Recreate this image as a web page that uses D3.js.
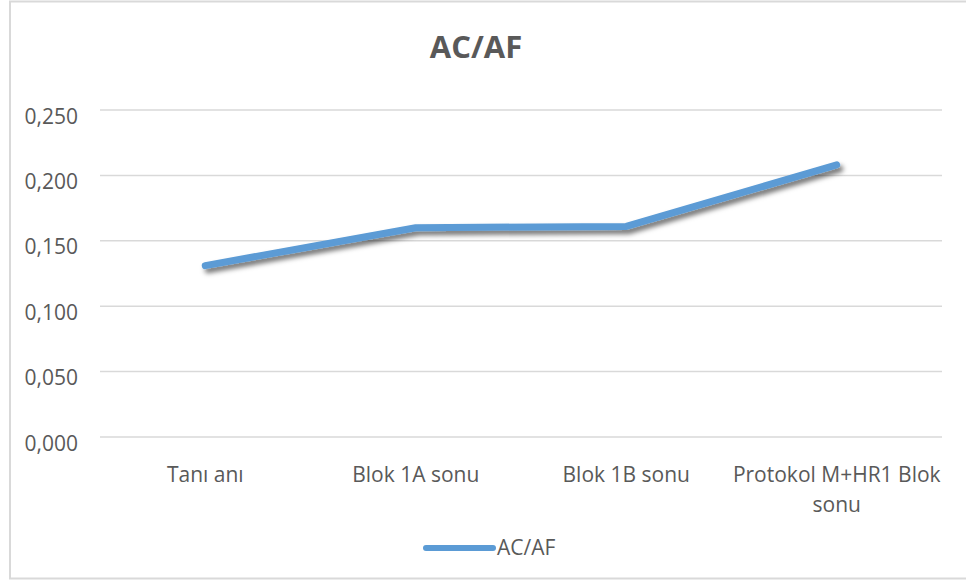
<!DOCTYPE html>
<html>
<head>
<meta charset="utf-8">
<script src="https://cdn.jsdelivr.net/npm/d3@7"></script>
<style>
  html, body { margin: 0; padding: 0; background: #fff; }
  svg { display: block; font-family: "Open Sans", "Noto Sans", sans-serif; }
</style>
</head>
<body>
<svg id="chart" width="966" height="580"></svg>
<script>
// Data
const categories = ["Tanı anı", "Blok 1A sonu", "Blok 1B sonu", "Protokol M+HR1 Blok sonu"];
const seriesName = "AC/AF";
const values = [0.131, 0.160, 0.161, 0.208];
const yTicks = [0, 0.05, 0.10, 0.15, 0.20, 0.25];

const svg = d3.select("#chart");
const plot = { left: 100, right: 942, top: 110, bottom: 437 };
const lineColor = "#5b9bd5";
const textColor = "#595959";
const gridColor = "#d9d9d9";
const labelSize = 21;

// Drop shadow for the series line
const defs = svg.append("defs");
const f = defs.append("filter").attr("id", "shadow")
  .attr("x", "-10%").attr("y", "-50%").attr("width", "120%").attr("height", "200%");
f.append("feDropShadow").attr("dx", 3).attr("dy", 4).attr("stdDeviation", 2.5)
  .attr("flood-color", "#000").attr("flood-opacity", 0.55);

// Chart frame
svg.append("rect").attr("x", 10).attr("y", 1.5).attr("width", 970).attr("height", 577)
  .attr("fill", "#fff").attr("stroke", gridColor).attr("stroke-width", 2);

// Scales
const x = d3.scaleBand().domain(categories).range([plot.left, plot.right]).padding(0);
const y = d3.scaleLinear().domain([0, 0.25]).range([plot.bottom, plot.top]);

// Title
svg.append("text").attr("x", 476).attr("y", 58).attr("text-anchor", "middle")
  .attr("font-size", 31).attr("font-weight", "bold").attr("fill", textColor)
  .text(seriesName);

// Gridlines
svg.append("g").selectAll("line").data(yTicks).join("line")
  .attr("x1", plot.left).attr("x2", plot.right)
  .attr("y1", d => y(d)).attr("y2", d => y(d))
  .attr("stroke", gridColor).attr("stroke-width", 1.5);

// Y axis labels
const fmt = d => d3.format(".3f")(d).replace(".", ",");
const yAxis = svg.append("g").attr("transform", `translate(78,0)`)
  .attr("font-size", labelSize).attr("font-family", "'Open Sans', sans-serif")
  .call(d3.axisLeft(y).tickValues(yTicks).tickFormat(fmt).tickSize(0).tickPadding(0));
yAxis.attr("font-size", labelSize).attr("font-family", "'Open Sans', sans-serif");
yAxis.select(".domain").remove();
yAxis.selectAll("text").attr("fill", textColor).attr("dy", 13);

// X axis labels (wrapped like the category axis)
const xAxis = svg.append("g").attr("transform", `translate(0,${plot.bottom})`)
  .call(d3.axisBottom(x).tickSize(0).tickPadding(0).tickFormat(""));
xAxis.attr("font-size", labelSize).attr("font-family", "'Open Sans', sans-serif");
xAxis.select(".domain").remove();
const maxLabelWidth = 215;
xAxis.selectAll(".tick").each(function(d) {
  const t = d3.select(this).append("text")
    .attr("text-anchor", "middle").attr("fill", textColor);
  const words = d.split(" ");
  let lines = [], cur = [];
  const probe = t.append("tspan");
  words.forEach(w => {
    const trial = cur.concat(w).join(" ");
    probe.text(trial);
    if (probe.node().getComputedTextLength() > maxLabelWidth && cur.length) {
      lines.push(cur.join(" "));
      cur = [w];
    } else cur.push(w);
  });
  lines.push(cur.join(" "));
  probe.remove();
  lines.forEach((ln, i) => {
    t.append("tspan").attr("x", 0).attr("y", 45 + i * 30).text(ln);
  });
});

// Series line
const line = d3.line()
  .x((d, i) => x(categories[i]) + x.bandwidth() / 2)
  .y(d => y(d));
svg.append("path").datum(values)
  .attr("d", line).attr("fill", "none")
  .attr("stroke", lineColor).attr("stroke-width", 7)
  .attr("stroke-linecap", "round").attr("stroke-linejoin", "round")
  .attr("filter", "url(#shadow)");

// Legend
const lg = svg.append("g").attr("transform", "translate(426,548)");
lg.append("line").attr("x1", 0).attr("x2", 67).attr("y1", 0).attr("y2", 0)
  .attr("stroke", lineColor).attr("stroke-width", 6).attr("stroke-linecap", "round");
lg.append("text").attr("x", 71).attr("y", 7)
  .attr("font-size", labelSize).attr("fill", textColor).text(seriesName);
</script>
</body>
</html>
